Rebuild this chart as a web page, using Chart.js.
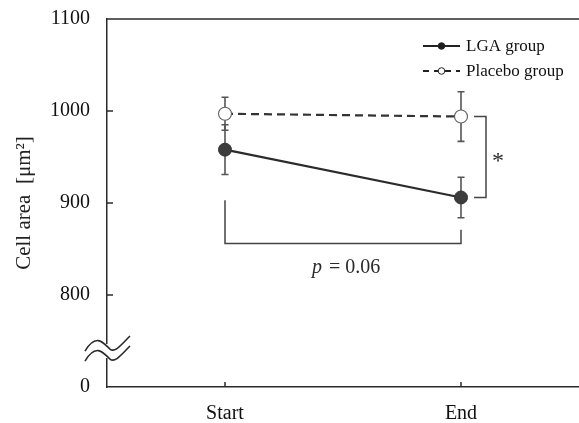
<!DOCTYPE html>
<html>
<head>
<meta charset="utf-8">
<script src="https://cdn.jsdelivr.net/npm/chart.js@4.4.1/dist/chart.umd.min.js"></script>
<style>
  html, body { margin: 0; padding: 0; background: #fff; }
  #wrap { width: 579px; height: 423px; }
</style>
</head>
<body>
<div id="wrap"><canvas id="chart" width="579" height="423"></canvas></div>
<script>
// datos
const categories = ["Start", "End"];
const lgaMean = [958, 906];
const lgaErr = [27, 22];
const placeboMean = [997, 994];
const placeboErr = [18, 27];
const yTicks = [700, 800, 900, 1000, 1100];
const yTickLabels = ["0", "800", "900", "1000", "1100"];
const pLabel = "0.06";

const serif = "'Liberation Serif', 'Times New Roman', serif";
const ink = "#2a2a2a";

// barras de error, marcas de ejes, corte del eje, leyenda y corchetes
const extras = {
  id: "extras",
  beforeDatasetsDraw(chart) {
    const ctx = chart.ctx;
    const x = chart.scales.x, y = chart.scales.y;
    const sets = [[lgaMean, lgaErr], [placeboMean, placeboErr]];
    ctx.save();
    ctx.strokeStyle = "#555";
    ctx.lineWidth = 1.6;
    sets.forEach(([m, e]) => {
      m.forEach((v, i) => {
        const px = x.getPixelForValue(i);
        const top = y.getPixelForValue(v + e[i]);
        const bot = y.getPixelForValue(v - e[i]);
        ctx.beginPath();
        ctx.moveTo(px, top); ctx.lineTo(px, bot);
        ctx.moveTo(px - 3.5, top); ctx.lineTo(px + 3.5, top);
        ctx.moveTo(px - 3.5, bot); ctx.lineTo(px + 3.5, bot);
        ctx.stroke();
      });
    });
    ctx.restore();
  },
  afterDraw(chart) {
    const ctx = chart.ctx;
    const a = chart.chartArea;
    const x = chart.scales.x, y = chart.scales.y;
    ctx.save();
    ctx.strokeStyle = ink;
    ctx.lineWidth = 1.5;
    // marco superior
    ctx.beginPath();
    ctx.moveTo(a.left, a.top); ctx.lineTo(chart.width, a.top);
    ctx.stroke();
    // marcas del eje y hacia adentro
    yTicks.slice(1, -1).forEach(v => {
      const py = y.getPixelForValue(v);
      ctx.beginPath();
      ctx.moveTo(a.left, py); ctx.lineTo(a.left + 6, py);
      ctx.stroke();
    });
    // marcas del eje x hacia adentro
    categories.forEach((c, i) => {
      const px = x.getPixelForValue(i);
      ctx.beginPath();
      ctx.moveTo(px, a.bottom); ctx.lineTo(px, a.bottom - 5);
      ctx.stroke();
    });
    // corte del eje
    const by = y.getPixelForValue(738);
    ctx.clearRect(a.left - 2, by - 8, 4, 14);
    ctx.lineWidth = 1.6;
    [-5, 5].forEach(off => {
      const cy = by + off;
      ctx.beginPath();
      ctx.moveTo(a.left - 22, cy + 4);
      ctx.bezierCurveTo(a.left - 10, cy - 16, a.left - 2, cy - 2, a.left + 3, cy + 2);
      ctx.bezierCurveTo(a.left + 8, cy + 6, a.left + 14, cy - 2, a.left + 23, cy - 11);
      ctx.stroke();
    });
    // corchete de significancia (placebo vs LGA al final)
    const ex = x.getPixelForValue(1);
    ctx.strokeStyle = "#444";
    ctx.lineWidth = 1.5;
    const yP = y.getPixelForValue(placeboMean[1]);
    const yL = y.getPixelForValue(lgaMean[1]);
    ctx.beginPath();
    ctx.moveTo(ex + 13, yP); ctx.lineTo(ex + 25, yP);
    ctx.lineTo(ex + 25, yL); ctx.lineTo(ex + 13, yL);
    ctx.stroke();
    ctx.fillStyle = ink;
    ctx.font = "24px " + serif;
    ctx.textAlign = "left";
    ctx.textBaseline = "middle";
    ctx.fillText("*", ex + 31, (yP + yL) / 2 + 5);
    // corchete p = 0.06
    const sx = x.getPixelForValue(0);
    const yLow = y.getPixelForValue(856);
    ctx.beginPath();
    ctx.moveTo(sx, y.getPixelForValue(903)); ctx.lineTo(sx, yLow);
    ctx.lineTo(ex, yLow); ctx.lineTo(ex, y.getPixelForValue(871));
    ctx.stroke();
    ctx.font = "italic 20px " + serif;
    ctx.textAlign = "right";
    const mid = (sx + ex) / 2;
    ctx.fillText("p", mid - 21, yLow + 24);
    ctx.font = "20px " + serif;
    ctx.textAlign = "left";
    ctx.fillText(" = " + pLabel, mid - 19, yLow + 24);
    // leyenda
    const items = [
      { label: chart.data.datasets[0].label, dash: [], fill: "#1e1e1e" },
      { label: chart.data.datasets[1].label, dash: [6, 5], fill: "#fff" }
    ];
    items.forEach((it, i) => {
      const ly = a.top + 27 + i * 25;
      ctx.strokeStyle = "#222";
      ctx.lineWidth = 1.8;
      ctx.setLineDash(it.dash);
      ctx.beginPath();
      ctx.moveTo(423, ly); ctx.lineTo(460, ly);
      ctx.stroke();
      ctx.setLineDash([]);
      ctx.beginPath();
      ctx.arc(441.5, ly, 3.3, 0, Math.PI * 2);
      ctx.fillStyle = it.fill;
      ctx.fill();
      ctx.lineWidth = 1;
      ctx.stroke();
      ctx.fillStyle = "#111";
      ctx.font = "17px " + serif;
      ctx.textAlign = "left";
      ctx.textBaseline = "middle";
      ctx.fillText(it.label, 466, ly + 1);
    });
    ctx.restore();
  }
};

const chartData = {
  labels: categories,
  datasets: [
    {
      label: "LGA group",
      data: lgaMean,
      borderColor: "#2b2b2b",
      borderWidth: 2.2,
      pointRadius: 6.5,
      pointBackgroundColor: "#3c3c3c",
      pointBorderColor: "#333",
      pointBorderWidth: 1,
      fill: false
    },
    {
      label: "Placebo group",
      data: placeboMean,
      borderColor: "#333",
      borderWidth: 2.2,
      borderDash: [8, 5],
      pointRadius: 6.5,
      pointBackgroundColor: "#fff",
      pointBorderColor: "#666",
      pointBorderWidth: 1.2,
      fill: false
    }
  ]
};

const chart = new Chart(document.getElementById("chart").getContext("2d"), {
  type: "line",
  data: chartData,
  plugins: [extras],
  options: {
    responsive: false,
    animation: false,
    layout: { autoPadding: false, padding: { top: 19, right: 0, left: 0, bottom: 0 } },
    plugins: { legend: { display: false }, tooltip: { enabled: false } },
    scales: {
      x: {
        offset: true,
        grid: { display: false, drawTicks: false },
        border: { color: ink, width: 1.5 },
        ticks: { color: "#111", font: { family: serif, size: 20 }, padding: 15 },
        afterFit(s) {
          s.height = 36;
          s.paddingLeft = 0; s.paddingRight = 0;
        }
      },
      y: {
        min: 700,
        max: 1100,
        afterBuildTicks(s) { s.ticks = yTicks.map(v => ({ value: v })); },
        grid: { display: false, drawTicks: false },
        border: { color: ink, width: 1.5 },
        ticks: {
          color: "#111",
          font: { family: serif, size: 20 },
          padding: 17,
          callback: v => yTickLabels[yTicks.indexOf(v)]
        },
        title: {
          display: true,
          text: "Cell area  [\u03bcm\u00b2]",
          color: "#222",
          font: { family: serif, size: 21 },
          padding: { top: 12, bottom: 0 }
        },
        afterFit(s) {
          s.width = 107;
          s.paddingTop = 0; s.paddingBottom = 0;
        }
      }
    }
  }
});
</script>
</body>
</html>
